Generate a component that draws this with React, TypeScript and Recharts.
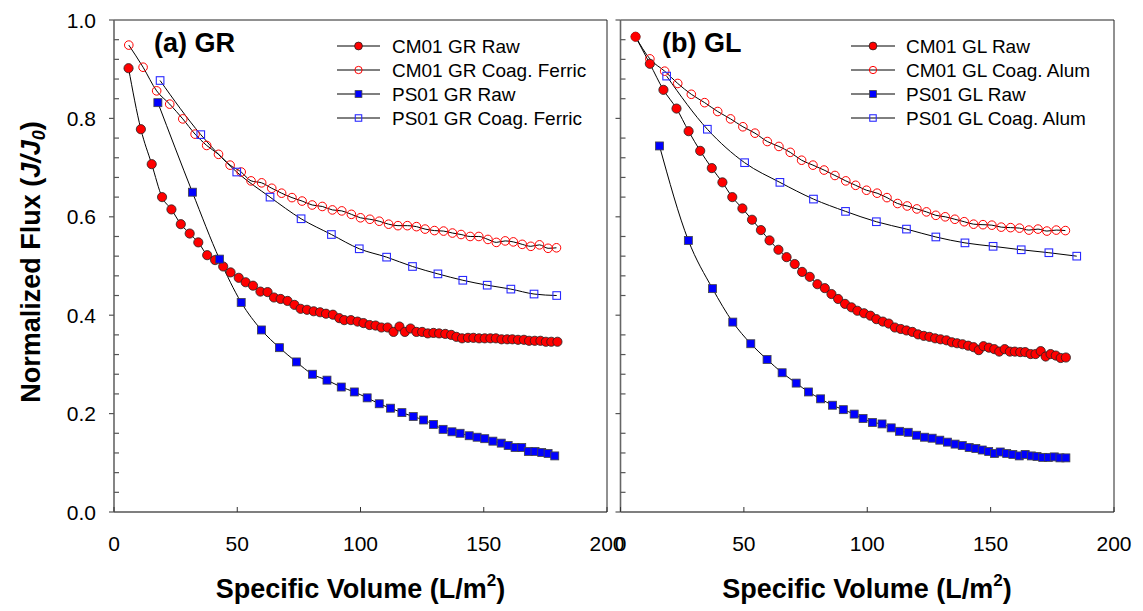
import React from 'react';
import { LineChart, Line, XAxis, YAxis, ReferenceLine } from 'recharts';

type P = [number, number];

// ---------- (a) GR ----------
const grCmRaw: P[] = [
  [5.9, 0.902], [10.9, 0.778], [15.3, 0.707], [19.5, 0.64], [23.3, 0.615], [27.1, 0.585], [30.7, 0.566],
  [34.2, 0.548], [37.8, 0.522], [41.0, 0.512], [44.3, 0.499], [47.3, 0.487], [50.6, 0.476], [53.4, 0.467],
  [56.4, 0.46], [59.4, 0.448], [62.3, 0.447], [64.9, 0.436], [67.6, 0.433], [70.4, 0.429], [73.2, 0.421],
  [75.7, 0.413], [78.3, 0.411], [81.0, 0.408], [83.6, 0.406], [86.0, 0.403], [88.8, 0.401], [91.4, 0.394],
  [93.4, 0.39], [96.1, 0.39], [98.8, 0.387], [101.2, 0.384], [103.7, 0.38], [106.1, 0.379], [108.5, 0.375],
  [111.0, 0.375], [113.4, 0.366], [115.8, 0.377], [118.0, 0.366], [120.3, 0.373], [122.7, 0.366], [125.0, 0.366],
  [127.3, 0.363], [129.6, 0.364], [131.9, 0.363], [134.4, 0.362], [136.8, 0.36], [138.9, 0.356], [141.2, 0.353],
  [143.6, 0.354], [145.8, 0.354], [148.1, 0.353], [150.4, 0.353], [152.7, 0.353], [154.9, 0.353], [157.2, 0.351],
  [159.5, 0.351], [161.6, 0.351], [163.9, 0.35], [166.3, 0.35], [168.4, 0.348], [170.7, 0.348], [173.0, 0.348],
  [175.2, 0.346], [177.4, 0.346], [179.9, 0.346],
];
const grCmCoag: P[] = [
  [6.0, 0.949], [11.8, 0.904], [17.3, 0.856], [22.6, 0.829], [27.9, 0.799], [32.9, 0.768], [37.6, 0.745],
  [42.4, 0.727], [47.1, 0.705], [51.6, 0.691], [55.6, 0.673], [59.9, 0.669], [64.0, 0.658], [68.0, 0.648],
  [72.2, 0.639], [76.3, 0.632], [80.4, 0.624], [84.5, 0.621], [88.6, 0.614], [92.4, 0.612], [96.3, 0.605],
  [100.0, 0.598], [103.8, 0.595], [107.6, 0.591], [111.4, 0.585], [115.2, 0.582], [119.0, 0.582], [122.7, 0.58],
  [126.2, 0.575], [130.0, 0.572], [133.7, 0.571], [137.3, 0.567], [140.8, 0.564], [144.5, 0.56], [148.0, 0.56],
  [151.7, 0.554], [155.1, 0.548], [158.7, 0.551], [162.0, 0.549], [165.6, 0.544], [169.1, 0.54], [172.6, 0.543],
  [176.1, 0.536], [179.5, 0.537],
];
const grPsRaw: P[] = [
  [17.8, 0.832], [31.8, 0.65], [42.8, 0.514], [51.6, 0.426], [59.8, 0.37], [67.1, 0.334], [74.0, 0.305],
  [80.5, 0.28], [86.4, 0.268], [92.2, 0.254], [97.5, 0.244], [102.7, 0.232], [107.6, 0.22], [112.2, 0.211],
  [116.8, 0.202], [121.4, 0.194], [125.6, 0.187], [129.6, 0.178], [133.5, 0.168], [137.1, 0.163], [140.4, 0.16],
  [144.1, 0.155], [147.3, 0.152], [150.4, 0.149], [153.7, 0.144], [157.1, 0.14], [159.9, 0.135], [162.7, 0.131],
  [165.4, 0.131], [168.1, 0.123], [170.8, 0.123], [173.5, 0.121], [176.1, 0.119], [178.8, 0.114],
];
const grPsCoag: P[] = [
  [18.7, 0.877], [35.2, 0.767], [49.8, 0.691], [63.3, 0.64], [75.9, 0.596], [88.2, 0.564], [99.5, 0.535],
  [110.6, 0.518], [121.1, 0.499], [131.4, 0.484], [141.5, 0.471], [151.4, 0.461], [161.0, 0.453], [170.4, 0.443],
  [179.6, 0.44],
];

// ---------- (b) GL ----------
const glCmRaw: P[] = [
  [6.1, 0.966], [11.9, 0.911], [17.4, 0.858], [22.7, 0.82], [27.6, 0.774], [32.3, 0.734], [37.0, 0.699],
  [41.3, 0.67], [45.3, 0.64], [49.4, 0.617], [53.3, 0.594], [56.9, 0.573], [60.4, 0.552], [64.0, 0.533],
  [67.3, 0.518], [70.6, 0.504], [73.6, 0.488], [76.7, 0.478], [79.8, 0.463], [82.8, 0.455], [85.5, 0.443],
  [88.2, 0.433], [91.0, 0.423], [93.6, 0.416], [96.0, 0.409], [98.7, 0.404], [101.3, 0.399], [103.7, 0.392],
  [106.3, 0.387], [108.7, 0.383], [111.2, 0.375], [113.6, 0.372], [115.9, 0.369], [118.3, 0.366], [120.6, 0.361],
  [122.9, 0.358], [125.2, 0.356], [127.5, 0.353], [129.7, 0.351], [132.1, 0.349], [134.3, 0.345], [136.4, 0.343],
  [138.6, 0.341], [140.9, 0.338], [143.1, 0.335], [145.2, 0.329], [147.1, 0.337], [149.3, 0.334], [151.5, 0.331],
  [153.5, 0.326], [155.7, 0.331], [157.8, 0.326], [159.8, 0.326], [162.0, 0.325], [164.0, 0.325], [166.2, 0.321],
  [168.2, 0.321], [170.3, 0.327], [172.3, 0.316], [174.3, 0.321], [176.4, 0.318], [178.4, 0.313], [180.5, 0.314],
];
const glCmCoag: P[] = [
  [6.1, 0.966], [11.9, 0.921], [17.9, 0.896], [23.2, 0.871], [28.7, 0.849], [34.1, 0.832], [39.4, 0.814],
  [44.6, 0.799], [49.6, 0.783], [54.5, 0.77], [59.5, 0.753], [64.2, 0.743], [68.8, 0.731], [73.4, 0.715],
  [78.0, 0.705], [82.5, 0.695], [86.9, 0.684], [91.3, 0.673], [95.3, 0.664], [99.7, 0.654], [104.0, 0.648],
  [108.0, 0.639], [112.3, 0.627], [116.2, 0.622], [120.1, 0.616], [124.0, 0.61], [127.8, 0.603], [131.6, 0.6],
  [135.5, 0.595], [139.3, 0.59], [143.1, 0.585], [146.9, 0.584], [150.5, 0.583], [154.3, 0.579], [158.1, 0.578],
  [161.7, 0.577], [165.5, 0.573], [169.2, 0.575], [172.8, 0.571], [176.6, 0.573], [180.3, 0.572],
];
const glPsRaw: P[] = [
  [15.8, 0.744], [27.5, 0.552], [37.3, 0.454], [45.5, 0.386], [52.8, 0.342], [59.4, 0.31], [65.5, 0.283],
  [71.2, 0.262], [76.2, 0.244], [81.1, 0.23], [85.9, 0.217], [90.3, 0.208], [94.7, 0.199], [98.3, 0.19],
  [102.1, 0.182], [106.0, 0.179], [109.7, 0.171], [113.1, 0.164], [116.6, 0.162], [120.0, 0.156], [123.2, 0.152],
  [126.3, 0.15], [129.4, 0.146], [132.5, 0.142], [135.6, 0.138], [138.5, 0.135], [141.3, 0.131], [144.0, 0.129],
  [146.6, 0.126], [149.2, 0.123], [151.6, 0.119], [153.9, 0.122], [156.5, 0.119], [159.0, 0.117], [161.6, 0.114],
  [164.0, 0.117], [166.5, 0.114], [168.8, 0.113], [171.1, 0.111], [173.4, 0.111], [175.8, 0.112], [178.1, 0.11],
  [180.5, 0.11],
];
const glPsCoag: P[] = [
  [18.7, 0.886], [35.2, 0.778], [50.3, 0.71], [64.6, 0.67], [78.2, 0.636], [91.2, 0.611], [103.7, 0.59],
  [115.9, 0.575], [127.8, 0.559], [139.6, 0.547], [151.0, 0.54], [162.4, 0.533], [173.6, 0.527], [184.9, 0.52],
];

const xTicks = [0, 50, 100, 150, 200];
const yTicks = [0, 0.04, 0.08, 0.12, 0.16, 0.2, 0.24, 0.28, 0.32, 0.36, 0.4, 0.44, 0.48, 0.52, 0.56, 0.6,
  0.64, 0.68, 0.72, 0.76, 0.8, 0.84, 0.88, 0.92, 0.96, 1.0];
const grLegend = ['CM01 GR Raw', 'CM01 GR Coag. Ferric', 'PS01 GR Raw', 'PS01 GR Coag. Ferric'];
const glLegend = ['CM01 GL Raw', 'CM01 GL Coag. Alum', 'PS01 GL Raw', 'PS01 GL Coag. Alum'];
const panelTitles = ['(a) GR', '(b) GL'];
const markerKinds = ['fc', 'oc', 'fs', 'os'];

const FONT = '"Liberation Sans", Arial, Helvetica, sans-serif';
const RED = '#ff0000';
const BLUE = '#0000ff';

const toRows = (s: P[]) => s.map(([x, y]) => ({ x, y }));

function Marker({ kind, cx, cy, small }: { kind: string; cx: number; cy: number; small?: boolean }) {
  const k = small ? 0.85 : 1;
  if (kind === 'fc') return <circle cx={cx} cy={cy} r={4.6 * k} fill={RED} stroke="#222" strokeWidth={0.8} />;
  if (kind === 'oc') return <circle cx={cx} cy={cy} r={4.3 * k} fill="none" stroke={RED} strokeWidth={1} />;
  if (kind === 'fs') {
    const h = 4 * k;
    return <rect x={cx - h} y={cy - h} width={2 * h} height={2 * h} fill={BLUE} stroke="#444" strokeWidth={0.8} />;
  }
  const h = 3.8 * k;
  return <rect x={cx - h} y={cy - h} width={2 * h} height={2 * h} fill="none" stroke="#2a2aff" strokeWidth={1.1} />;
}

const isMajor = (v: number) => Math.abs(v * 5 - Math.round(v * 5)) < 1e-6;

function LeftTick(props: any) {
  const { x, y, payload, labels } = props;
  const v = payload.value as number;
  const major = isMajor(v);
  return (
    <g>
      {major ? (
        <line x1={x - 5} x2={x} y1={y} y2={y} stroke="#555" strokeWidth={1.2} />
      ) : (
        <line x1={x} x2={x + 5} y1={y} y2={y} stroke="#555" strokeWidth={1.2} />
      )}
      {major && labels ? (
        <text x={x - 18} y={y + 7.5} textAnchor="end" fontSize={21} fontFamily={FONT} fill="#000">
          {v.toFixed(1)}
        </text>
      ) : null}
    </g>
  );
}

function RightTick(props: any) {
  const { x, y } = props;
  return <line x1={x - 5} x2={x} y1={y} y2={y} stroke="#333" strokeWidth={1} />;
}

function BottomTick(props: any) {
  const { x, y, payload } = props;
  return (
    <g>
      <line x1={x} x2={x} y1={y - 5} y2={y} stroke="#333" strokeWidth={1} />
      <text x={x} y={y + 38.5} textAnchor="middle" fontSize={21} fontFamily={FONT} fill="#000">
        {String(payload.value)}
      </text>
    </g>
  );
}

function Panel({ series, left, width, margin, labels }: { series: P[][]; left: number; width: number; margin: any; labels: boolean }) {
  return (
    <div style={{ position: 'absolute', left, top: 0, width, height: 611 }}>
      <LineChart width={width} height={611} margin={margin}>
        <XAxis
          xAxisId="x"
          type="number"
          dataKey="x"
          domain={[0, 200]}
          ticks={xTicks}
          interval={0}
          height={40}
          tickSize={0}
          tickMargin={0}
          tickLine={false}
          axisLine={{ stroke: '#555', strokeWidth: 1.5 }}
          tick={(p: any) => <BottomTick {...p} />}
        />
        <YAxis
          yAxisId="l"
          type="number"
          domain={[0, 1]}
          ticks={yTicks}
          interval={0}
          width={60}
          tickSize={0}
          tickMargin={0}
          tickLine={false}
          axisLine={{ stroke: '#666', strokeWidth: 1.6 }}
          tick={(p: any) => <LeftTick {...p} labels={labels} />}
        />
        <YAxis
          yAxisId="r"
          orientation="right"
          type="number"
          domain={[0, 1]}
          ticks={yTicks}
          interval={0}
          width={13}
          tickSize={0}
          tickMargin={0}
          tickLine={false}
          axisLine={{ stroke: '#222', strokeWidth: 1 }}
          tick={(p: any) => <RightTick {...p} />}
        />
        <ReferenceLine xAxisId="x" yAxisId="l" y={1} stroke="#222" strokeWidth={1} />
        {series.map((s, i) => (
          <Line
            key={i}
            xAxisId="x"
            yAxisId="l"
            data={toRows(s)}
            dataKey="y"
            type="monotone"
            stroke="#000"
            strokeWidth={1}
            activeDot={false}
            isAnimationActive={false}
            dot={(p: any) => <Marker key={`${i}-${p.index}`} kind={markerKinds[i]} cx={p.cx} cy={p.cy} />}
          />
        ))}
      </LineChart>
    </div>
  );
}

function LegendBlock({ names, x1, x2, tx }: { names: string[]; x1: number; x2: number; tx: number }) {
  const rows = [46, 70, 94, 118];
  return (
    <g>
      {names.map((n, i) => (
        <g key={n}>
          <line x1={x1} x2={x2} y1={rows[i]} y2={rows[i]} stroke={i === 2 ? '#555' : '#000'} strokeWidth={i === 2 ? 1.6 : 1} />
          <Marker kind={markerKinds[i]} cx={(x1 + x2) / 2} cy={rows[i]} small />
          <text x={tx} y={rows[i] + 6.5} fontSize={19} fontFamily={FONT} fill="#000">{n}</text>
        </g>
      ))}
    </g>
  );
}

export default function App() {
  return (
    <div style={{ position: 'absolute', left: 0, top: 0, width: 1143, height: 611, background: '#fff', overflow: 'hidden' }}>
      <Panel
        series={[grCmRaw, grCmCoag, grPsRaw, grPsCoag]}
        left={0}
        width={640}
        margin={{ top: 20, right: 20, bottom: 59, left: 54 }}
        labels={true}
      />
      <Panel
        series={[glCmRaw, glCmCoag, glPsRaw, glPsCoag]}
        left={560}
        width={583}
        margin={{ top: 20, right: 16, bottom: 59, left: 0.5 }}
        labels={false}
      />
      <svg width={1143} height={611} style={{ position: 'absolute', left: 0, top: 0, pointerEvents: 'none' }}>
        <text x={154} y={52} fontSize={27} fontWeight="bold" fontFamily={FONT} fill="#000">{panelTitles[0]}</text>
        <text x={662} y={52} fontSize={27} fontWeight="bold" fontFamily={FONT} fill="#000">{panelTitles[1]}</text>
        <LegendBlock names={grLegend} x1={337} x2={380} tx={392} />
        <LegendBlock names={glLegend} x1={851} x2={895} tx={906} />
        <text transform="translate(40,262) rotate(-90)" textAnchor="middle" fontSize={27} fontWeight="bold" fontFamily={FONT} fill="#000">
          Normalized Flux (<tspan fontStyle="italic">J/J</tspan>
          <tspan fontStyle="italic" fontSize={18} dy={5}>0</tspan>
          <tspan dy={-5}>)</tspan>
        </text>
        <text x={360.5} y={598} textAnchor="middle" fontSize={27} fontWeight="bold" fontFamily={FONT} fill="#000">
          Specific Volume (L/m<tspan fontSize={17} dy={-12}>2</tspan>
          <tspan dy={12}>)</tspan>
        </text>
        <text x={867} y={598} textAnchor="middle" fontSize={27} fontWeight="bold" fontFamily={FONT} fill="#000">
          Specific Volume (L/m<tspan fontSize={17} dy={-12}>2</tspan>
          <tspan dy={12}>)</tspan>
        </text>
      </svg>
    </div>
  );
}
